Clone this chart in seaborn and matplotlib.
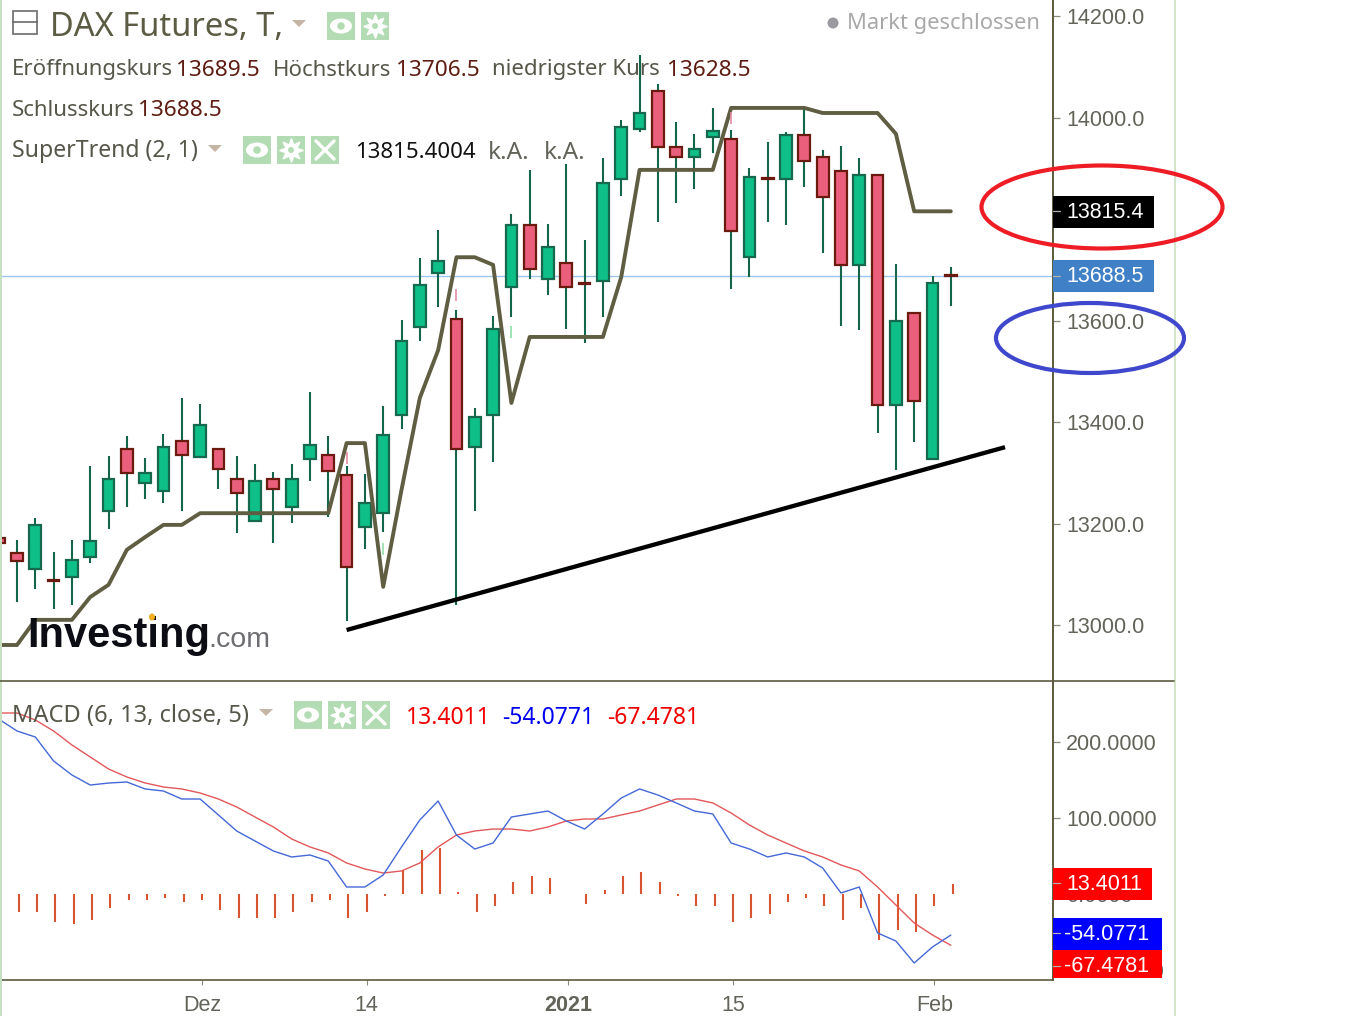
import numpy as np
import pandas as pd
import seaborn as sns
import matplotlib
matplotlib.use("Agg")
import matplotlib.pyplot as plt
from matplotlib.patches import Rectangle, Ellipse, Polygon
from matplotlib.lines import Line2D
from matplotlib.transforms import Affine2D

opens = [13172,13143,13111,13089,13095,13135,13225,13347,13280,13265,13363,13332,13347,13288,13206,13288,13233,13328,13336,13296,13194,13221,13414,13588,13694,13603,13351,13414,13666,13788,13682,13714,13674,13678,13879,13978,14052,13942,13922,13962,13958,13725,13881,13879,13966,13922,13895,13710,13887,13434,13615,13328,13689.5]
highs = [13188,13168,13212,13145,13168,13314,13334,13373,13330,13377,13448,13436,13347,13334,13318,13302,13318,13460,13373,13314,13298,13432,13601,13724,13779,13621,13428,13609,13810,13897,13790,13909,13759,13920,13995,14123,14066,13991,13968,14019,13976,13901,13952,13972,14017,13936,13944,13920,13887,13712,13615,13688,13706.5]
lows = [13149,13046,13072,13032,13040,13123,13190,13233,13249,13241,13225,13332,13269,13182,13206,13162,13202,13284,13213,13009,13150,13184,13387,13560,13627,13040,13225,13322,13607,13682,13651,13584,13556,13607,13846,13972,13794,13832,13859,13930,13662,13686,13794,13788,13863,13733,13590,13582,13379,13306,13361,13328,13628.5]
closes = [13162,13127,13198,13087,13129,13166,13288,13300,13300,13351,13336,13395,13308,13261,13284,13269,13288,13355,13304,13115,13241,13375,13560,13670,13718,13347,13410,13584,13788,13702,13745,13666,13672,13871,13981,14009,13942,13922,13938,13974,13777,13883,13879,13966,13915,13844,13710,13887,13434,13599,13442,13674,13688.5]
supertrend = [12961.5,12961.5,13011,13011,13011,13056,13080,13149,13174,13198,13198,13221,13221,13221,13221,13221,13221,13221,13221,13359,13359,13076,13267,13448,13542,13725,13725,13710,13438,13568,13568,13568,13568,13568,13686,13897,13897,13897,13897,13897,14019,14019,14019,14019,14019,14009,14009,14009,14009,13968,13815.4,13815.4,13815.4]
macd_line = [230.3,214.5,206.6,175,156.6,143.4,146,147.4,138.2,135.5,125,125,104,82.9,69.7,56.6,48.7,51.3,43.4,9.2,9.2,25,61.9,97.4,122.4,77.6,59.2,67.1,101.3,105.3,109.2,96.1,85.5,105.3,126.3,138.2,130.3,119.8,109.2,105.3,67.1,59.2,48.7,54,48.7,34.2,1.3,9.2,-51.3,-61.9,-90.8,-69.7,-54.08]
signal_line = [238.2,238.2,229,214.5,196.1,180.3,164.5,154,146.1,140.8,138.2,132.9,125,114.5,101.3,88.2,72.4,61.9,54,40.8,32.9,27.6,30.3,40.8,61.9,77.6,82.9,85.5,85.5,82.9,88.2,96.1,98.7,98.7,104,109.2,117.1,125,125,119.8,106.6,90.8,77.6,67.1,56.6,48.7,38.2,30.3,9.2,-14.5,-38.2,-54,-67.48]
histogram = [0,-23.7,-23.7,-36.8,-39.5,-34.2,-18.4,-7.9,-7.9,-5.3,-10.5,-7.9,-21.1,-31.6,-31.6,-31.6,-23.7,-10.5,-7.9,-31.6,-23.7,-2.6,31.6,57.9,60.5,2.6,-23.7,-15.8,15.8,23.7,21.1,0,-13.2,5.3,23.7,29,15.8,-2.6,-15.8,-15.8,-36.8,-31.6,-26.3,-10.5,-5.3,-15.8,-34.2,-18.4,-60.5,-47.4,-50,-15.8,13.4]
session = list(range(len(opens)))
x_tick_pos = [11, 20, 31, 40, 51]
x_tick_labels = ["Dez", "14", "2021", "15", "Feb"]
price_ticks = [13000, 13200, 13400, 13600, 14000, 14200]
macd_ticks = [200, 100, 0, -100]
last_close = 13688.5
trend_x = [19, 54.96]
trend_y = [12991, 13351]

W, H = 1367, 1016
sns.set_theme(style="white")
plt.rcParams['font.family'] = ['Noto Sans', 'DejaVu Sans']

df = pd.DataFrame({"session": session, "open": opens, "high": highs, "low": lows, "close": closes,
                   "supertrend": supertrend, "macd": macd_line, "signal": signal_line, "hist": histogram})

fig = plt.figure(figsize=(W / 100, H / 100), dpi=100, facecolor="white")
T = Affine2D().scale(1, -1).translate(0, H)
ax = fig.add_axes([0, 1 - 681 / H, 1053 / W, 681 / H])
ax2 = fig.add_axes([0, 1 - 980 / H, 1053 / W, 299 / H])

XLIM = (0.0716, 57.58)
OLIVE = "#5b5a3e"
GREY = "#63635a"
WICK = "#14664a"
UP, UP_E = "#0fbf88", "#17694e"
DN, DN_E = "#ea5f7c", "#6b1a10"

# --- price pane
ax.axhline(last_close, color="#9cc6f2", lw=1.0, zorder=1)
ax.vlines(df["session"], df["low"], df["high"], color=WICK, lw=1.5, zorder=2)
is_up = df["close"] >= df["open"]
ax.bar(df["session"][is_up], (df["close"] - df["open"])[is_up], bottom=df["open"][is_up], width=0.64,
       color=UP, edgecolor=UP_E, linewidth=1.6, zorder=3)
ax.bar(df["session"][~is_up], (df["open"] - df["close"])[~is_up], bottom=df["close"][~is_up], width=0.64,
       color=DN, edgecolor=DN_E, linewidth=1.6, zorder=3)
sns.lineplot(data=df, x="session", y="supertrend", ax=ax, color="#5f5e42", lw=2.8, errorbar=None, zorder=4)
ax.plot(trend_x, trend_y, color="black", lw=3.1, solid_capstyle="butt", zorder=5)
for mx, my, c in [(25, 13650, "#e88aa5"), (28, 13578, "#8fe0a8"), (19, 13330, "#e88aa5"),
                  (21, 13150, "#8fe0a8"), (40, 14000, "#e88aa5")]:
    ax.plot([mx], [my], marker="|", ms=9, mew=1.2, color=c, zorder=4)
ax.set_xlim(*XLIM)
ax.set_ylim(12890.6, 14231.5)
ax.yaxis.tick_right()
ax.set_yticks(price_ticks)
ax.set_yticklabels([f"{v:.1f}" for v in price_ticks])
ax.set_xticks([])
ax.set_xlabel("")
ax.set_ylabel("")

# --- MACD pane
ax2.vlines(np.array(session) + 0.1, 0, df["hist"], color="#d9552f", lw=1.5, zorder=2)
sns.lineplot(data=df, x="session", y="signal", ax=ax2, color="#e2575a", lw=1.0, errorbar=None, zorder=3)
sns.lineplot(data=df, x="session", y="macd", ax=ax2, color="#4468d6", lw=1.0, errorbar=None, zorder=3)
ax2.set_xlim(*XLIM)
ax2.set_ylim(-113.2, 280.3)
ax2.yaxis.tick_right()
ax2.set_yticks(macd_ticks)
ax2.set_yticklabels([f"{v:.4f}" for v in macd_ticks])
ax2.set_xticks(np.array(x_tick_pos) + 0.1)
ax2.set_xticklabels(x_tick_labels)
ax2.set_xlabel("")
ax2.set_ylabel("")

for a in (ax, ax2):
    a.set_facecolor("none")
    for s in ("top", "left"):
        a.spines[s].set_visible(False)
    a.spines["right"].set_color(OLIVE)
    a.spines["right"].set_linewidth(1.4)
    a.spines["bottom"].set_visible(False)
    a.tick_params(axis="y", length=5, width=0.9, color="#8a8a7a", pad=4.3, labelsize=15.5,
                  labelcolor=GREY, right=True, left=False)
    for t in a.get_yticklabels():
        t.set_family("Liberation Sans")
ax2.spines["bottom"].set_visible(True)
ax2.spines["bottom"].set_color(OLIVE)
ax2.spines["bottom"].set_linewidth(1.2)
ax2.tick_params(axis="x", length=3.5, width=0.8, color="#8a8a7a", pad=7, labelsize=15.5, labelcolor=GREY, bottom=True)
for t in ax2.get_xticklabels():
    t.set_family("Liberation Sans")
    if t.get_text() == "2021":
        t.set_fontweight("bold")


# --- pixel-space furniture
def px_text(x, y, s, color=GREY, size=15, family="Noto Sans", **kw):
    kw.setdefault("ha", "left")
    kw.setdefault("va", "center")
    fig.text(x / W, 1 - y / H, s, color=color, fontsize=size, family=family, **kw)


def px_rect(x0, y0, x1, y1, color, z=6, **kw):
    fig.add_artist(Rectangle((x0, y0), x1 - x0, y1 - y0, transform=T, facecolor=color, edgecolor="none", zorder=z, **kw))


def px_line(xs, ys, color, lw, z=6, **kw):
    fig.add_artist(Line2D(xs, ys, transform=T, color=color, lw=lw, zorder=z, **kw))


def tri(x0, y0):
    fig.add_artist(Polygon([(x0, y0), (x0 + 14, y0), (x0 + 7, y0 + 7)], transform=T, facecolor="#c5b5a5",
                           edgecolor="none", zorder=6))


PALE = "#b4dcb4"


def eye(x, y):
    px_rect(x, y, x + 28, y + 28, PALE)
    fig.add_artist(Ellipse((x + 14, y + 14), 22, 15, transform=T, facecolor="white", edgecolor="none", zorder=7))
    fig.add_artist(Ellipse((x + 14, y + 14), 9, 9, transform=T, facecolor=PALE, edgecolor="white", lw=1, zorder=8))


def gear(x, y):
    px_rect(x, y, x + 28, y + 28, PALE)
    px_line([x + 14], [y + 14], "white", 0, z=7, marker=(8, 1, 0), ms=17, mec="white", mfc="white")
    fig.add_artist(Ellipse((x + 14, y + 14), 6, 6, transform=T, facecolor=PALE, edgecolor="none", zorder=8))


def cross(x, y):
    px_rect(x, y, x + 28, y + 28, PALE)
    px_line([x + 5, x + 23], [y + 5, y + 23], "white", 2.4, z=7)
    px_line([x + 5, x + 23], [y + 23, y + 5], "white", 2.4, z=7)


# borders
px_rect(0, 0, 2, H, "#c6e0c0")
px_rect(1174, 0, 1176, H, "#d3e4c8")
px_line([0, 1174], [681, 681], OLIVE, 1.2)

# header
fig.add_artist(Rectangle((13, 11), 24, 23, transform=T, facecolor="none", edgecolor="#6b6b6b", lw=1.2, zorder=6))
px_line([13, 37], [22, 22], "#6b6b6b", 1.2)
px_text(50, 27, "DAX Futures, T,", color="#5c5c44", size=23.5)
tri(292, 20)
eye(327, 12)
gear(361, 12)
fig.add_artist(Ellipse((833, 23), 11, 11, transform=T, facecolor="#9a9aa0", edgecolor="none", zorder=6))
px_text(847, 24, "Markt geschlossen", color="#a8a8a8", size=15.8)

NUM = "#5e1c12"
LAB = "#56564a"
for x, s, c in [(12, "Eröffnungskurs", LAB), (176, "13689.5", NUM), (273, "Höchstkurs", LAB), (396, "13706.5", NUM),
                (492, "niedrigster Kurs", LAB), (667, "13628.5", NUM)]:
    px_text(x, 70, s, color=c, size=16.3 if c == NUM else 16)
px_text(12, 111, "Schlusskurs", color=LAB, size=16)
px_text(138, 111, "13688.5", color=NUM, size=16.3)
px_text(12, 151, "SuperTrend (2, 1)", color=LAB, size=16.6)
tri(208, 145)
eye(243, 136)
gear(277, 136)
cross(311, 136)
px_text(355, 153, "13815.4004", color="#111111", size=16)
px_text(488, 153, "k.A.", color=GREY, size=17.5)
px_text(544, 153, "k.A.", color=GREY, size=17.5)

# MACD legend
px_text(12, 716, "MACD (6, 13, close, 5)", color=LAB, size=17)
tri(259, 709)
eye(294, 701)
gear(328, 701)
cross(362, 701)
px_text(406, 718, "13.4011", color="#f00000", size=16.5)
px_text(502, 718, "-54.0771", color="#0000f0", size=16.5)
px_text(607, 718, "-67.4781", color="#f00000", size=16.5)

# logo
px_text(27, 647, "Investing", color="#0c0c14", size=30, family="Liberation Sans", fontweight="bold", va="baseline")
px_text(208, 647, ".com", color="#6e6e72", size=20.5, family="Liberation Sans", va="baseline")
fig.add_artist(Ellipse((152, 617), 6, 7, transform=T, facecolor="#f0b020", edgecolor="none", zorder=6))

# value boxes
for x0, y0, x1, y1, col, s, tx, ty, tk in [
    (1053, 196, 1154, 228, "black", "13815.4", 1066, 213, 210.5),
    (1053, 260, 1154, 292, "#3f80c6", "13688.5", 1066, 277, 275.5),
    (1053, 868, 1152, 900, "#ff0000", "13.4011", 1066, 885, 883),
    (1053, 918, 1162, 950, "#0000ff", "-54.0771", 1064, 935, 933),
    (1053, 950, 1162, 978, "#ff0000", "-67.4781", 1064, 967, 966),
]:
    px_rect(x0, y0, x1, y1, col, z=6)
    px_line([1053, 1060], [tk, tk], "#b0b0b0", 0.9, z=7)
    px_text(tx, ty, s, color="white", size=15.5, family="Liberation Sans", zorder=8)

# hand-drawn ellipses
fig.add_artist(Ellipse((1102, 207), 241, 83, transform=T, facecolor="none", edgecolor="#ee1c25", lw=3, zorder=9))
fig.add_artist(Ellipse((1090, 338), 188, 70, transform=T, facecolor="none", edgecolor="#3f48cc", lw=3, zorder=9))

fig.savefig("out.png", dpi=100, facecolor="white")
